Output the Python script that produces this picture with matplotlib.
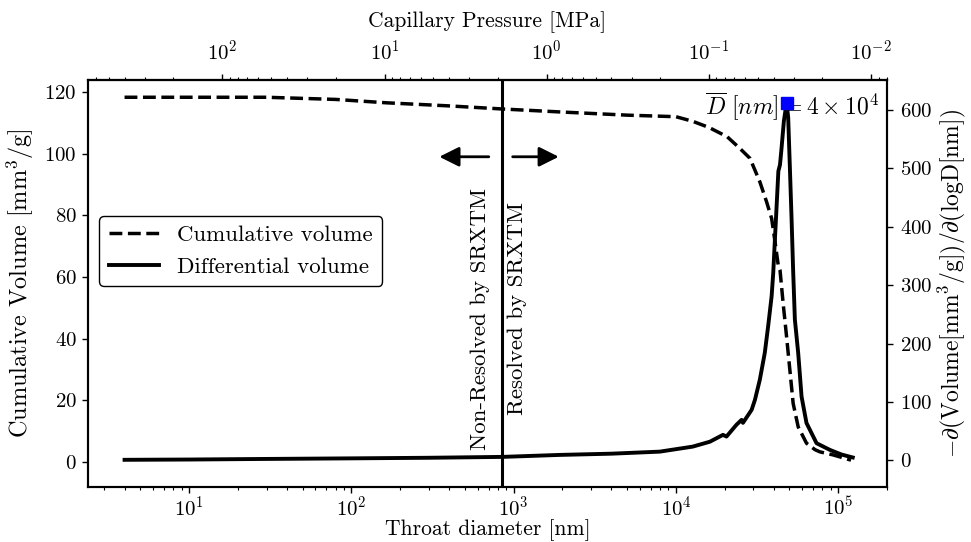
import numpy as np
import matplotlib.pyplot as plt

plt.rcParams['font.family'] = 'serif'
plt.rcParams['font.serif'] = ['cmr10']
plt.rcParams['mathtext.fontset'] = 'cm'
plt.rcParams['axes.formatter.use_mathtext'] = True
plt.rcParams['axes.unicode_minus'] = False

# cumulative intrusion volume [mm3/g] vs throat diameter [nm]
diam_cum = [4.0, 10, 30, 80, 165, 400, 850, 2000, 5000, 10000, 12700, 16000,
            20700, 24800, 28600, 32900, 36200, 38900, 40800, 42700, 43800,
            45800, 48100, 50400, 52800, 56700, 63800, 72000, 77100, 93100,
            105000, 120000]
cum_vol = [118.3, 118.3, 118.3, 117.6, 116.5, 115.5, 114.5, 113.5, 112.5,
           112.0, 110.5, 108.5, 105.5, 101.7, 98.5, 90.9, 84.4, 79.0, 71.5,
           63.9, 62.3, 51.5, 40.6, 29.8, 19.0, 11.4, 6.1, 4.0, 3.3, 2.3, 1.5,
           0.6]

# differential volume
diam_diff = [4.0, 10, 30, 100, 300, 850, 1930, 4000, 7960, 12700, 16200,
             19500, 20500, 23600, 25400, 25900, 29300, 30700, 32900, 35300,
             37000, 38900, 39800, 40700, 41800, 42800, 43800, 44600, 46300,
             48100, 49200, 50400, 51600, 52800, 54100, 56700, 59500, 63800,
             73600, 88900, 105000, 123000]
diff_vol = [1, 1.5, 2.5, 3.5, 4.5, 6, 9.4, 11.5, 15, 23.6, 32, 43.7, 40.8,
            60.9, 69.4, 64.3, 86.6, 103.7, 138, 184, 229, 281, 321, 375, 438,
            495, 506, 529, 581, 612, 587, 501, 415, 324, 241, 184, 109, 64,
            29.4, 18, 10, 5]

peak_d = 48100
peak_v = 612
d_limit = 850      # SRXTM resolution limit [nm]
C = 1600.0         # P[MPa] * D[nm]
p_ticks = [1e2, 1e1, 1e0, 1e-1, 1e-2]

fig = plt.figure(figsize=(9.71, 5.42), dpi=100)
ax = fig.add_axes([0.0906, 0.1015, 0.8229, 0.7509])

l1, = ax.plot(diam_cum, cum_vol, 'k--', lw=2.5, label='Cumulative volume')
ax.set_xscale('log')
ax.set_xlim(2.38, 2.0e5)
ax.set_ylim(-8.1, 123.9)
ax.set_yticks([0, 20, 40, 60, 80, 100, 120])
ax.set_xlabel('Throat diameter [nm]', fontsize=15.5, labelpad=0)
ax.set_ylabel('Cumulative Volume [mm$^3$/g]', fontsize=17.5, labelpad=6)

ax2 = ax.twinx()
l2, = ax2.plot(diam_diff, diff_vol, 'k-', lw=2.8, label='Differential volume')
ax2.plot([peak_d], [peak_v], 's', color='blue', ms=8, zorder=5)
ax2.set_ylim(-45.5, 651)
ax2.set_ylabel(r'$-\partial(\mathrm{Volume[mm^3/g]})/\partial(\mathrm{logD[nm]})$',
               fontsize=17, labelpad=3)
ax2.text(0.99, 0.975, r'$\overline{D}\ [nm] = 4\times10^4$', transform=ax2.transAxes,
         ha='right', va='top', fontsize=17)

ax.axvline(d_limit, color='k', lw=2.2)
ax.annotate('', xy=(335, 99), xytext=(731, 99),
            arrowprops=dict(arrowstyle='-|>', color='k', lw=2, mutation_scale=30))
ax.annotate('', xy=(1973, 99), xytext=(948, 99),
            arrowprops=dict(arrowstyle='-|>', color='k', lw=2, mutation_scale=30))
ax.text(713, 3.9, 'Non-Resolved by SRXTM', rotation=90, ha='right', va='bottom', fontsize=16.5)
ax.text(920, 15.2, 'Resolved by SRXTM', rotation=90, ha='left', va='bottom', fontsize=16.5)

secax = ax.secondary_xaxis('top', functions=(lambda d: C / d, lambda p: C / p))
secax.set_xticks(p_ticks)
secax.set_xlabel('Capillary Pressure [MPa]', fontsize=15.5, labelpad=9)

for a in (ax, ax2, secax):
    a.tick_params(which='major', length=4.5, width=1, labelsize=15)
    a.tick_params(which='minor', length=2.5, width=0.8)
ax.tick_params(axis='x', pad=1.5)
ax2.tick_params(axis='y', pad=5)
secax.tick_params(axis='x', pad=7)
for a in (ax, ax2):
    for s in a.spines.values():
        s.set_linewidth(1.5)
secax.spines['top'].set_linewidth(1.5)

leg = ax2.legend([l1, l2], ['Cumulative volume', 'Differential volume'],
                 loc='center left', bbox_to_anchor=(0.0, 0.58), fontsize=16.5,
                 handlelength=2.2, framealpha=1)
leg.get_frame().set_edgecolor('k')

fig.savefig('out.png', dpi=100)
